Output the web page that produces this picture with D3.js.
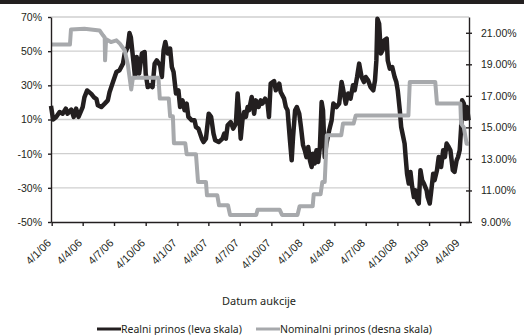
<!DOCTYPE html>
<html>
<head>
<meta charset="utf-8">
<script src="https://cdn.jsdelivr.net/npm/d3@7"></script>
<style>
  body { margin: 0; background: #fff; }
  svg { display: block; font-family: "Noto Sans", sans-serif; }
  .axis path, .axis line { stroke: #231f20; stroke-width: 1.4; }
  .axis text { fill: #231f20; font-size: 10.5px; }
  .grid line { stroke: #cfcfcf; stroke-width: 1.3; }
</style>
</head>
<body>
<div id="chart"></div>
<script>
// Realni prinos (leva skala), %
const realSeries = [
  ["2006-01-02",18],["2006-01-08",10],["2006-01-17",11.5],["2006-01-27",14.4],["2006-02-05",13.4],
  ["2006-02-14",16.4],["2006-02-19",13.4],["2006-03-02",15.8],["2006-03-09",11.5],["2006-03-16",16.4],
  ["2006-03-23",11.5],["2006-03-31",15.4],["2006-04-04",17.3],["2006-04-09",23],["2006-04-17",27],
  ["2006-04-29",25],["2006-05-07",23],["2006-05-14",22],["2006-05-18",18.3],["2006-05-28",17.3],
  ["2006-06-07",19.3],["2006-06-16",21.2],["2006-06-21",26],["2006-07-01",32],["2006-07-11",37.8],
  ["2006-07-20",38.8],["2006-07-30",42.7],["2006-08-04",48.6],["2006-08-13",52.4],["2006-08-18",60.6],
  ["2006-08-22",58],["2006-08-30",42.7],["2006-09-03",34.9],["2006-09-08",46.6],["2006-09-15",36.9],
  ["2006-09-23",48.6],["2006-10-01",49.5],["2006-10-04",36.9],["2006-10-10",29],["2006-10-17",30],
  ["2006-10-24",29],["2006-10-30",42.7],["2006-11-05",44.6],["2006-11-15",41.7],["2006-11-20",34.9],
  ["2006-11-25",50.5],["2006-11-30",55.4],["2006-12-07",48.6],["2006-12-14",51.5],["2006-12-19",40.7],
  ["2006-12-24",37.8],["2006-12-31",25.2],["2007-01-07",27.1],["2007-01-12",17.3],["2007-01-19",21.2],
  ["2007-01-25",15.4],["2007-01-31",19.3],["2007-02-05",11.5],["2007-02-15",9.5],["2007-02-23",9.5],
  ["2007-02-27",5.6],["2007-03-06",4.7],["2007-03-16",-1.2],["2007-03-21",-3.2],["2007-03-28",-1.2],
  ["2007-04-05",13.4],["2007-04-12",11.5],["2007-04-19",1.7],["2007-04-24",-2.2],["2007-05-04",-3.2],
  ["2007-05-15",-1.2],["2007-05-20",1.7],["2007-05-25",-1.2],["2007-05-30",6.6],["2007-06-08",8.5],
  ["2007-06-15",4.7],["2007-06-23",7.6],["2007-06-28",25.2],["2007-07-02",15.4],["2007-07-07",-1.2],
  ["2007-07-12",9.5],["2007-07-17",14.4],["2007-07-22",11.5],["2007-07-27",17.3],["2007-07-31",15.4],
  ["2007-08-08",23.2],["2007-08-15",13.4],["2007-08-20",21.2],["2007-08-28",17.3],["2007-09-03",21.2],
  ["2007-09-08",19.3],["2007-09-16",22.2],["2007-09-23",19.3],["2007-09-27",11.5],["2007-10-02",31],
  ["2007-10-12",32.5],["2007-10-17",27.1],["2007-10-27",31],["2007-10-31",26.1],["2007-11-10",22.2],
  ["2007-11-15",17.3],["2007-11-20",15.4],["2007-11-27",-2.2],["2007-12-02",-13.9],["2007-12-06",-0.2],
  ["2007-12-12",15.4],["2007-12-17",17.3],["2007-12-24",13.4],["2007-12-29",5.6],["2008-01-04",-5],
  ["2008-01-09",-8],["2008-01-14",-12],["2008-01-19",-6.1],["2008-01-24",-13.9],["2008-01-29",-17.8],
  ["2008-02-02",-10],["2008-02-07",-15.8],["2008-02-12",-8],["2008-02-17",-14.9],["2008-02-22",-6.1],
  ["2008-02-27",20.2],["2008-03-02",15.4],["2008-03-07",-12],["2008-03-12",-4.1],["2008-03-20",3.7],
  ["2008-03-27",9.5],["2008-04-01",19.3],["2008-04-10",17.3],["2008-04-18",19.3],["2008-04-25",31.9],
  ["2008-04-29",28.1],["2008-05-07",19.3],["2008-05-14",25.2],["2008-05-21",22.2],["2008-05-28",30],
  ["2008-06-02",27.1],["2008-06-09",34.9],["2008-06-15",42.7],["2008-06-22",34.9],["2008-06-29",31.9],
  ["2008-07-04",34.9],["2008-07-11",32.9],["2008-07-18",29],["2008-07-26",27.1],["2008-07-31",32.9],
  ["2008-08-04",44.6],["2008-08-07",69],["2008-08-12",66.1],["2008-08-17",48.6],["2008-08-22",50.5],
  ["2008-08-27",56.4],["2008-09-03",57.4],["2008-09-06",44.6],["2008-09-12",39.8],["2008-09-19",40.7],
  ["2008-09-26",34.9],["2008-10-01",31.9],["2008-10-05",27.1],["2008-10-11",15.4],["2008-10-15",5.6],
  ["2008-10-21",-0.2],["2008-10-25",-4.1],["2008-10-28",-12],["2008-11-01",-21.7],["2008-11-06",-27.5],
  ["2008-11-11",-20.7],["2008-11-16",-29.5],["2008-11-21",-35.4],["2008-11-26",-31.5],["2008-11-30",-37.3],
  ["2008-12-05",-39.2],["2008-12-10",-19.7],["2008-12-15",-25.6],["2008-12-20",-27.5],["2008-12-28",-31.5],
  ["2008-12-31",-35.4],["2009-01-06",-39.2],["2009-01-10",-32.4],["2009-01-16",-21.7],["2009-01-20",-25.6],
  ["2009-01-27",-19.7],["2009-02-01",-12],["2009-02-08",-17.8],["2009-02-14",-8],["2009-02-19",-12],
  ["2009-02-24",-4.1],["2009-03-02",-6.1],["2009-03-07",-8],["2009-03-14",-19.7],["2009-03-19",-20.7],
  ["2009-03-25",-13.9],["2009-03-29",-12],["2009-04-03",-8],["2009-04-07",4.7],["2009-04-10",21.2],
  ["2009-04-15",19.3],["2009-04-20",10.5],["2009-04-24",17.3],["2009-04-29",9.5]
];

// Nominalni prinos (desna skala), %
const nominalSeries = [
  ["2006-01-02",20.25],["2006-02-26",20.25],["2006-03-01",21.2],["2006-04-09",21.25],["2006-05-23",21.15],
  ["2006-06-02",20.84],["2006-06-07",20.7],["2006-06-08",19.25],["2006-06-11",20.6],["2006-06-25",20.41],
  ["2006-07-11",20.52],["2006-07-21",20.31],["2006-08-04",19.89],["2006-08-13",19.0],["2006-08-23",17.4],
  ["2006-08-28",18.15],["2006-11-10",18.15],["2006-11-14",16.83],["2006-12-10",16.83],["2006-12-14",15.7],
  ["2006-12-22",15.7],["2006-12-25",14.0],["2007-01-27",14.0],["2007-01-31",13.3],["2007-02-27",13.3],
  ["2007-03-05",11.54],["2007-03-28",11.54],["2007-03-31",10.69],["2007-04-30",10.69],["2007-05-05",10.06],
  ["2007-05-31",10.06],["2007-06-06",9.45],["2007-08-21",9.45],["2007-08-25",9.78],["2007-10-28",9.78],
  ["2007-11-04",9.45],["2007-12-19",9.45],["2007-12-25",10.0],["2008-02-01",10.0],["2008-02-04",10.76],
  ["2008-02-24",10.76],["2008-02-29",11.54],["2008-03-07",11.54],["2008-03-13",14.5],["2008-04-24",14.5],
  ["2008-04-29",15.24],["2008-05-30",15.24],["2008-06-05",15.75],["2008-11-05",15.75],["2008-11-09",17.88],
  ["2009-01-22",17.88],["2009-01-27",16.51],["2009-04-05",16.51],["2009-04-07",15.24],["2009-04-15",15.0],
  ["2009-04-23",13.97],["2009-04-29",13.97]
];

const xTickLabels = ["4/1/06","4/4/06","4/7/06","4/10/06","4/1/07","4/4/07","4/7/07",
  "4/10/07","4/1/08","4/4/08","4/7/08","4/10/08","4/1/09","4/4/09"];
const leftTicks = [-50, -30, -10, 10, 30, 50, 70];
const rightTicks = [9, 11, 13, 15, 17, 19, 21];
const seriesNames = ["Realni prinos (leva skala)", "Nominalni prinos (desna skala)"];
const seriesColors = ["#231f20", "#a7a9ac"];

const width = 524, height = 335;
const margin = { top: 17, right: 55, bottom: 113, left: 51 };
const innerW = width - margin.left - margin.right;
const innerH = height - margin.top - margin.bottom;

const parseIso = d3.timeParse("%Y-%m-%d");
const parseTick = d3.timeParse("%d/%m/%y");

const svg = d3.select("#chart").append("svg")
  .attr("width", width)
  .attr("height", height);

// dark band on top
svg.append("rect").attr("x", 0).attr("y", 0).attr("width", width).attr("height", 4).attr("fill", "#231f20");

const chart = svg.append("g").attr("transform", `translate(${margin.left},${margin.top})`);

const xScale = d3.scaleTime()
  .domain([parseIso("2006-01-02"), parseIso("2009-04-30")])
  .range([0, innerW]);
const yLeft = d3.scaleLinear().domain([-50, 70]).range([innerH, 0]);
const yRight = d3.scaleLinear().domain([9, 22]).range([innerH, 0]);

// horizontal gridlines on left ticks
chart.append("g").attr("class", "grid")
  .selectAll("line")
  .data(leftTicks.filter((d) => d > -50))
  .join("line")
  .attr("x1", 0).attr("x2", innerW)
  .attr("y1", (d) => yLeft(d)).attr("y2", (d) => yLeft(d));

// lines
const realLine = d3.line()
  .x((d) => xScale(parseIso(d[0])))
  .y((d) => yLeft(d[1]));
const nominalLine = d3.line()
  .x((d) => xScale(parseIso(d[0])))
  .y((d) => yRight(d[1]));

chart.append("path")
  .datum(realSeries)
  .attr("fill", "none")
  .attr("stroke", seriesColors[0])
  .attr("stroke-width", 4.5)
  .attr("stroke-linejoin", "round")
  .attr("d", realLine);

chart.append("path")
  .datum(nominalSeries)
  .attr("fill", "none")
  .attr("stroke", seriesColors[1])
  .attr("stroke-width", 4)
  .attr("stroke-linejoin", "round")
  .attr("d", nominalLine);

// axes
const xAxis = d3.axisBottom(xScale)
  .tickValues(xTickLabels.map((s) => parseTick(s)))
  .tickFormat((d, i) => xTickLabels[i])
  .tickSize(4)
  .tickSizeOuter(0);
const xAxisG = chart.append("g").attr("class", "axis x-axis")
  .attr("transform", `translate(0,${innerH})`)
  .call(xAxis);
xAxisG.selectAll("text")
  .attr("x", 0).attr("y", 0).attr("dy", "0.35em")
  .attr("transform", "translate(-3,19) rotate(-45)")
  .attr("text-anchor", "end")
  .style("font-size", "11px");

const leftAxis = d3.axisLeft(yLeft)
  .tickValues(leftTicks)
  .tickFormat((d) => d + "%")
  .tickSize(3)
  .tickPadding(6)
  .tickSizeOuter(0);
chart.append("g").attr("class", "axis y-axis").call(leftAxis);

const rightAxis = d3.axisRight(yRight)
  .tickValues(rightTicks)
  .tickFormat((d) => d3.format(".2f")(d) + "%")
  .tickSize(3)
  .tickPadding(9)
  .tickSizeOuter(0);
const rightG = chart.append("g").attr("class", "axis y-axis-right")
  .attr("transform", `translate(${innerW},0)`)
  .call(rightAxis);
rightG.selectAll(".tick line").attr("x1", -3).attr("x2", 3);

// axis title
svg.append("text")
  .attr("x", 259).attr("y", 305)
  .attr("text-anchor", "middle")
  .attr("fill", "#231f20")
  .style("font-size", "11px")
  .text("Datum aukcije");

// legend
const legendX = [97, 256];
const legend = svg.append("g").attr("transform", "translate(0,329)");
seriesNames.forEach((name, i) => {
  legend.append("line")
    .attr("x1", legendX[i]).attr("x2", legendX[i] + 24)
    .attr("y1", 0).attr("y2", 0)
    .attr("stroke", seriesColors[i]).attr("stroke-width", 3);
  legend.append("text")
    .attr("x", legendX[i] + 24).attr("y", 0).attr("dy", "0.35em")
    .attr("fill", "#231f20")
    .style("font-size", "10.5px")
    .text(name);
});
</script>
</body>
</html>
